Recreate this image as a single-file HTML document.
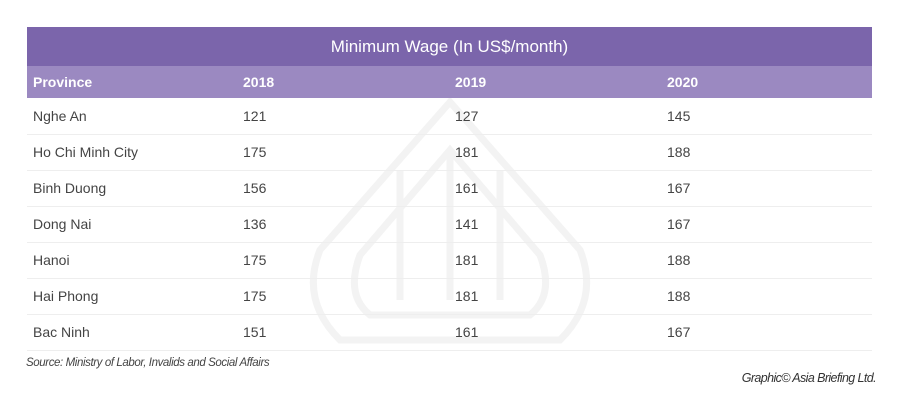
<!DOCTYPE html>
<html><head><style>
body{margin:0;width:900px;height:406px;background:#fff;font-family:"Liberation Sans",sans-serif;position:relative;overflow:hidden}
.t{position:absolute;left:27px;width:845px}
.title{top:27px;height:39px;background:#7b65ab;color:#fff;font-size:17px;line-height:40px;text-align:center}
.hdr{top:66px;height:32px;background:#9b89c1;color:#fff;font-weight:bold;font-size:14px}
.row{height:35px;border-bottom:1px solid #eeeeee;color:#444;font-size:14px}
.c{position:absolute;line-height:34px}
.hdr .c{line-height:32px}
</style></head><body>
<svg style="position:absolute;left:0;top:0" width="900" height="406">
<g fill="none" stroke="#f3f3f3" stroke-width="7">
<path d="M450 102 L320 250 Q300 300 340 340 L560 340 Q600 300 580 250 Z"/>
<path d="M450 150 L360 255 Q345 295 370 315 L530 315 Q555 295 540 255 Z"/>
<path d="M400 170 L400 300 M450 150 L450 300 M500 170 L500 300"/>
</g>
</svg>
<div class="t title">Minimum Wage (In US$/month)</div>
<div class="t hdr"><span class="c" style="left:6px">Province</span><span class="c" style="left:216px">2018</span><span class="c" style="left:428px">2019</span><span class="c" style="left:640px">2020</span></div>
<div class="t" style="top:99px">
<div class="row" style="position:relative"><span class="c" style="left:6px">Nghe An</span><span class="c" style="left:216px">121</span><span class="c" style="left:428px">127</span><span class="c" style="left:640px">145</span></div>
<div class="row" style="position:relative"><span class="c" style="left:6px">Ho Chi Minh City</span><span class="c" style="left:216px">175</span><span class="c" style="left:428px">181</span><span class="c" style="left:640px">188</span></div>
<div class="row" style="position:relative"><span class="c" style="left:6px">Binh Duong</span><span class="c" style="left:216px">156</span><span class="c" style="left:428px">161</span><span class="c" style="left:640px">167</span></div>
<div class="row" style="position:relative"><span class="c" style="left:6px">Dong Nai</span><span class="c" style="left:216px">136</span><span class="c" style="left:428px">141</span><span class="c" style="left:640px">167</span></div>
<div class="row" style="position:relative"><span class="c" style="left:6px">Hanoi</span><span class="c" style="left:216px">175</span><span class="c" style="left:428px">181</span><span class="c" style="left:640px">188</span></div>
<div class="row" style="position:relative"><span class="c" style="left:6px">Hai Phong</span><span class="c" style="left:216px">175</span><span class="c" style="left:428px">181</span><span class="c" style="left:640px">188</span></div>
<div class="row" style="position:relative"><span class="c" style="left:6px">Bac Ninh</span><span class="c" style="left:216px">151</span><span class="c" style="left:428px">161</span><span class="c" style="left:640px">167</span></div>
</div>
<div style="position:absolute;left:26px;top:357px;font-size:11.5px;font-style:italic;color:#444;letter-spacing:-0.4px">Source: Ministry of Labor, Invalids and Social Affairs</div>
<div style="position:absolute;right:24px;top:371px;font-size:12.5px;font-style:italic;color:#333;letter-spacing:-0.6px">Graphic© Asia Briefing Ltd.</div>
</body></html>
